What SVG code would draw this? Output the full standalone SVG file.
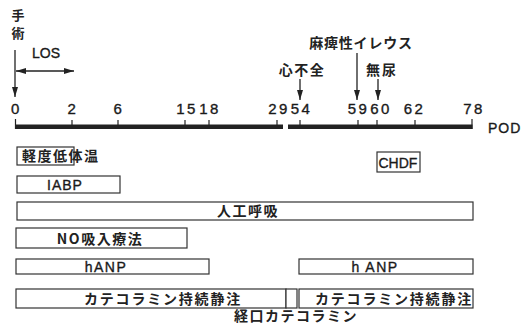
<svg xmlns="http://www.w3.org/2000/svg" width="522" height="326" viewBox="0 0 522 326">
<style>
.jp{font-family:"Noto Sans CJK JP","Noto Sans",sans-serif;font-weight:700;font-size:14px;fill:#222;letter-spacing:1.5px}
.la{font-family:"Liberation Sans","DejaVu Sans",sans-serif;font-size:14px;fill:#1a1a1a;stroke:#1a1a1a;stroke-width:0.35}
.num{font-family:"Liberation Sans","DejaVu Sans",sans-serif;font-size:15px;fill:#1a1a1a;stroke:#1a1a1a;stroke-width:0.35;letter-spacing:2.5px;text-anchor:middle}
.box{fill:#fff;stroke:#333;stroke-width:1.2}
.arr{stroke:#222;stroke-width:1.3;fill:none}
.tick{stroke:#222;stroke-width:1.2}
</style>
<defs>
<marker id="ah" viewBox="0 0 10 6" refX="10" refY="3" markerWidth="10" markerHeight="6" markerUnits="userSpaceOnUse" orient="auto-start-reverse">
<path d="M0,0 L10,3 L0,6 Z" fill="#222"/>
</marker>
</defs>
<rect width="522" height="326" fill="#fff"/>

<g id="surgery">
<text class="jp" x="18" y="20" text-anchor="middle" style="letter-spacing:0;font-size:13px">手</text>
<text class="jp" x="18" y="38" text-anchor="middle" style="letter-spacing:0;font-size:13px">術</text>
</g>
<g id="los">
<text class="la" x="32" y="58">LOS</text>
</g>
<g id="ileus"><text class="jp" x="361" y="48" text-anchor="middle" style="letter-spacing:0.8px">麻痺性イレウス</text></g>
<g id="heartfailure"><text class="jp" x="302" y="75" text-anchor="middle">心不全</text></g>
<g id="anuria"><text class="jp" x="382" y="75" text-anchor="middle" style="letter-spacing:2px">無尿</text></g>

<g id="connectors">
<line class="arr" x1="15" y1="50" x2="15" y2="97" marker-end="url(#ah)"/>
<line class="arr" x1="16" y1="71" x2="74" y2="71" marker-start="url(#ah)" marker-end="url(#ah)"/>
<line class="arr" x1="357" y1="53" x2="357" y2="100" marker-end="url(#ah)"/>
<line class="arr" x1="300" y1="79" x2="300" y2="100" marker-end="url(#ah)"/>
<line class="arr" x1="378" y1="79" x2="378" y2="100" marker-end="url(#ah)"/>
</g>

<g id="axis">
<rect x="15" y="124.5" width="268" height="4.5" fill="#222"/>
<rect x="288" y="124.5" width="184.5" height="4.5" fill="#222"/>
<line class="tick" x1="15.5" y1="119" x2="15.5" y2="129"/>
<line class="tick" x1="72" y1="120" x2="72" y2="125"/>
<line class="tick" x1="118" y1="120" x2="118" y2="125"/>
<line class="tick" x1="185" y1="120" x2="185" y2="125"/>
<line class="tick" x1="209" y1="120" x2="209" y2="125"/>
<line class="tick" x1="277" y1="120" x2="277" y2="125"/>
<line class="tick" x1="300" y1="120" x2="300" y2="125"/>
<line class="tick" x1="358" y1="120" x2="358" y2="125"/>
<line class="tick" x1="377" y1="120" x2="377" y2="125"/>
<line class="tick" x1="415" y1="120" x2="415" y2="125"/>
<line class="tick" x1="472" y1="119" x2="472" y2="129"/>
<text class="num" x="16.5" y="114">0</text>
<text class="num" x="73" y="114">2</text>
<text class="num" x="119" y="114">6</text>
<text class="num" x="187" y="114">15</text>
<text class="num" x="210" y="114">18</text>
<text class="num" x="279" y="114">29</text>
<text class="num" x="301.5" y="114">54</text>
<text class="num" x="358.5" y="114">59</text>
<text class="num" x="381" y="114">60</text>
<text class="num" x="414.5" y="114">62</text>
<text class="num" x="474" y="114">78</text>
<text class="la" x="488" y="133" style="letter-spacing:1px">POD</text>
</g>

<g id="hypothermia">
<rect class="box" x="17" y="147" width="57" height="18"/>
<text class="jp" x="22" y="161">軽度低体温</text>
</g>
<g id="chdf">
<rect class="box" x="377" y="152" width="43" height="20"/>
<text class="la" x="378.5" y="167.5">CHDF</text>
</g>
<g id="iabp">
<rect class="box" x="17" y="176" width="103" height="17"/>
<text class="la" x="65" y="189.5" text-anchor="middle" style="letter-spacing:1px">IABP</text>
</g>
<g id="ventilation">
<rect class="box" x="17" y="202" width="456" height="18"/>
<text class="jp" x="248" y="216" text-anchor="middle">人工呼吸</text>
</g>
<g id="no-inhalation">
<rect class="box" x="16" y="228" width="171" height="20"/>
<text class="jp" x="100" y="243.5" text-anchor="middle">NO吸入療法</text>
</g>
<g id="hanp1">
<rect class="box" x="16" y="259" width="193" height="15"/>
<text class="la" x="106" y="272" text-anchor="middle" style="letter-spacing:1.5px">hANP</text>
</g>
<g id="hanp2">
<rect class="box" x="299" y="259" width="174" height="15"/>
<text class="la" x="375" y="272" text-anchor="middle" style="letter-spacing:1.5px">h ANP</text>
</g>
<g id="catecholamine1">
<rect class="box" x="16" y="289" width="270" height="19"/>
<text class="jp" x="163" y="304" text-anchor="middle" style="letter-spacing:1.8px">カテコラミン持続静注</text>
</g>
<g id="oral-catecholamine">
<rect class="box" x="286" y="289" width="11" height="19"/>
<text class="jp" x="296" y="321" text-anchor="middle">経口カテコラミン</text>
</g>
<g id="catecholamine2">
<rect class="box" x="299" y="289" width="174" height="19"/>
<text class="jp" x="394" y="304" text-anchor="middle" style="letter-spacing:1.8px">カテコラミン持続静注</text>
</g>
</svg>
